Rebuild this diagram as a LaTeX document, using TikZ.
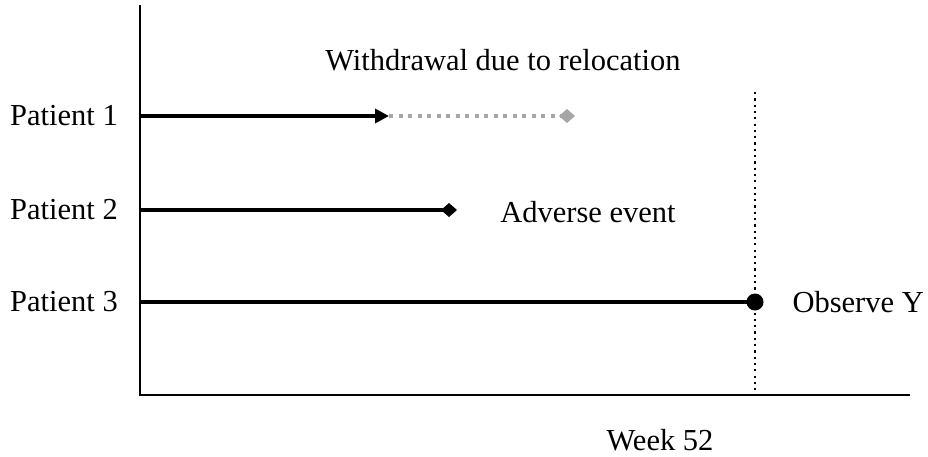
\documentclass[tikz,border=0pt]{standalone}
\usepackage{fontspec}
\setmainfont{Liberation Serif}
\usetikzlibrary{arrows.meta}
\begin{document}
\begin{tikzpicture}[x=1pt,y=-1pt,
    lbl/.style={font=\fontsize{30.5}{36}\selectfont, inner sep=0pt},
    track/.style={line width=4pt},
    axis/.style={line width=2.2pt}]
  \useasboundingbox (0,0) rectangle (928,456);
  \draw
    (118,116) node[lbl, anchor=east] (p1){Patient 1}
    (118,210) node[lbl, anchor=east] (p2){Patient 2}
    (118,302) node[lbl, anchor=east] (p3){Patient 3}
    (503,60) node[lbl] (withdraw){Withdrawal due to relocation}
    (588,212) node[lbl] (adverse){Adverse event}
    (924,302) node[lbl, anchor=east] (observe){Observe Y}
    (660,440) node[lbl] (week){Week 52};
  \coordinate (top) at (140,5);
  \coordinate (origin) at (140,395);
  \coordinate (right) at (910,395);
  \coordinate (s1) at (140,116);
  \coordinate (e1) at (389,116);
  \coordinate (w1) at (567,116);
  \coordinate (s2) at (140,210);
  \coordinate (e2) at (449,210);
  \coordinate (s3) at (140,302);
  \coordinate (e3) at (755,302);
  \coordinate (wk) at (755,92);
  \coordinate (wkb) at (755,395);
  \begin{scope}[-]
    \draw[axis] (top) -- (origin) -- (right);
    \draw[line width=2.2pt, dash pattern=on 2.2pt off 4.1pt] (wk) -- (wkb);
    \draw[line width=4pt, gray!70, dash pattern=on 4pt off 5.5pt] (e1) -- (w1);
    \fill[gray!70] (w1) ++(-8,0) -- ++(8,-7) -- ++(8,7) -- ++(-8,7) -- cycle;
    \draw[track, -{Triangle[length=14pt,width=14pt]}] (s1) -- (e1);
    \draw[track] (s2) -- (e2);
    \fill (e2) ++(-8,0) -- ++(8,-7) -- ++(8,7) -- ++(-8,7) -- cycle;
    \draw[track] (s3) -- (e3);
    \fill (e3) circle (8.5);
  \end{scope}
\end{tikzpicture}
\end{document}
